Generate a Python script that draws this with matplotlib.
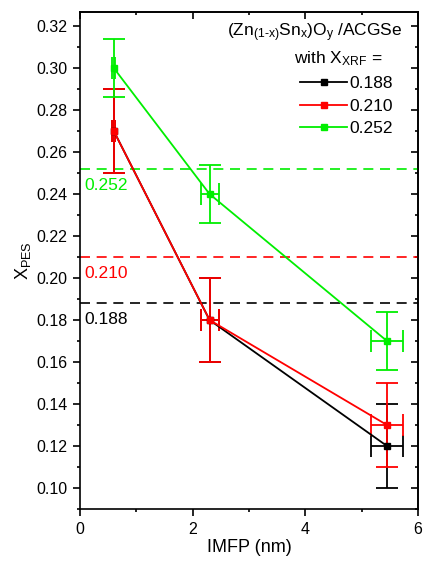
import numpy as np
import matplotlib
matplotlib.use("Agg")
import matplotlib.pyplot as plt
from matplotlib.ticker import MultipleLocator, FormatStrFormatter

plt.rcParams.update({
    "font.family": ["Liberation Sans", "DejaVu Sans"],
    "mathtext.fontset": "custom",
    "mathtext.rm": "Liberation Sans",
    "mathtext.it": "Liberation Sans",
    "font.size": 12,
})

# data
imfp = [0.6, 2.3, 5.45]
imfp_err = [0.03, 0.16, 0.28]
xrf = ["0.188", "0.210", "0.252"]
xrf_vals = [0.188, 0.210, 0.252]
xpes = {
    "0.188": [0.27, 0.18, 0.12],
    "0.210": [0.27, 0.18, 0.13],
    "0.252": [0.30, 0.24, 0.17],
}
xpes_err = {
    "0.188": [0.02, 0.02, 0.02],
    "0.210": [0.02, 0.02, 0.02],
    "0.252": [0.014, 0.014, 0.014],
}
colors = ["#000000", "#ff0000", "#00ee00"]

fig = plt.figure(figsize=(4.24, 5.67), dpi=100)
ax = fig.add_axes([80 / 424, 1 - 509 / 567, 338 / 424, 497 / 567])

handles = []
for key, val, c in zip(xrf, xrf_vals, colors):
    ax.axhline(val, color=c, lw=1.2, ls=(0, (6, 4)), zorder=1)
    ax.errorbar(imfp, xpes[key], yerr=xpes_err[key], xerr=imfp_err,
                color=c, lw=1.3, marker="s", ms=4, capsize=8,
                capthick=1.3, elinewidth=1.3, zorder=3)
    (line,) = ax.plot([], [], color=c, lw=1.3, marker="s", ms=4)
    handles.append(line)
    ax.text(0.08, val - 0.0042, key, color=c, fontsize=12.5, va="top", ha="left")

ax.set_xlim(0, 6)
ax.set_ylim(0.09, 0.3267)
ax.xaxis.set_major_locator(MultipleLocator(2))
ax.xaxis.set_minor_locator(MultipleLocator(1))
ax.yaxis.set_major_locator(MultipleLocator(0.02))
ax.yaxis.set_minor_locator(MultipleLocator(0.01))
ax.yaxis.set_major_formatter(FormatStrFormatter("%.2f"))
ax.tick_params(which="both", direction="out", width=1.2, labelsize=11.5, pad=4)
ax.tick_params(which="major", length=5)
ax.tick_params(which="minor", length=2.5)
# mirrored inward ticks on top / right
secx = ax.secondary_xaxis("top")
secx.xaxis.set_major_locator(MultipleLocator(2))
secx.xaxis.set_minor_locator(MultipleLocator(1))
secx.tick_params(which="both", direction="in", labeltop=False, width=1.2)
secx.tick_params(which="major", length=5)
secx.tick_params(which="minor", length=2.5)
secy = ax.secondary_yaxis("right")
secy.yaxis.set_major_locator(MultipleLocator(0.02))
secy.yaxis.set_minor_locator(MultipleLocator(0.01))
secy.tick_params(which="both", direction="in", labelright=False, width=1.2)
secy.tick_params(which="major", length=5)
secy.tick_params(which="minor", length=2.5)
for s in ax.spines.values():
    s.set_linewidth(1.2)
secx.spines["top"].set_linewidth(1.2)
secy.spines["right"].set_linewidth(1.2)

ax.set_xlabel("IMFP (nm)", fontsize=13, labelpad=2)
ax.set_ylabel(r"X$_{\mathrm{PES}}$", fontsize=13, labelpad=2)

ax.text(0.953, 0.958, r"(Zn$_{\text{(1-x)}}$Sn$_{\text{x}}$)O$_{\text{y}}$ /ACGSe",
        transform=ax.transAxes, ha="right", va="center", fontsize=12.5)
ax.text(0.896, 0.907, r"with X$_{\mathrm{XRF}}$ =",
        transform=ax.transAxes, ha="right", va="center", fontsize=12.5)
ax.legend(handles, xrf, loc="upper right", bbox_to_anchor=(0.95, 0.888),
          frameon=False, fontsize=12.5, handlelength=2.7, handletextpad=0.1,
          labelspacing=0.42, borderpad=0)

fig.savefig("out.png", dpi=100)
